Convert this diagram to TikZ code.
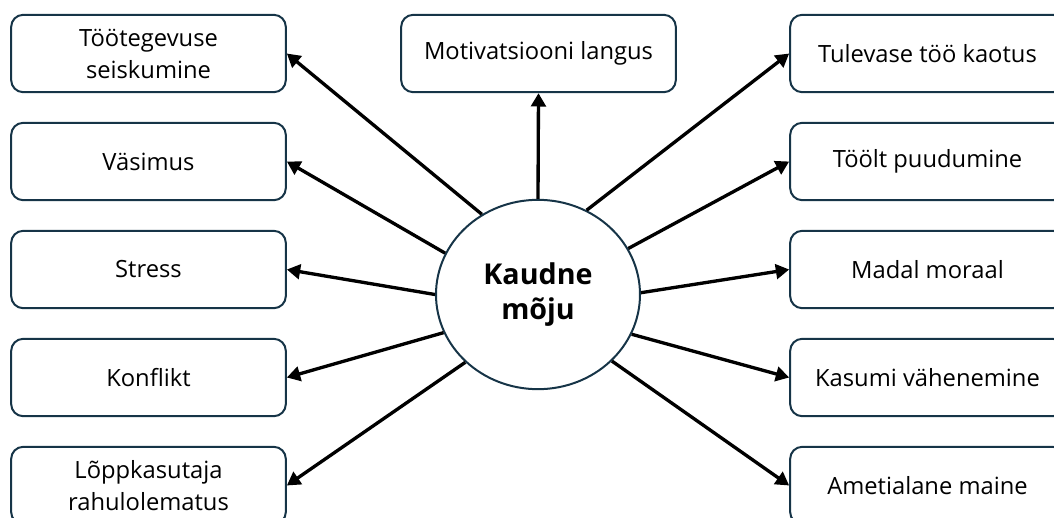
\documentclass[tikz,border=0pt]{standalone}
\usepackage{fontspec}
\setmainfont{Open Sans}
\usetikzlibrary{arrows.meta,shapes.geometric}
\definecolor{edgeblue}{HTML}{163447}

\begin{document}
\begin{tikzpicture}[x=0.75pt,y=-0.75pt,>={Triangle[length=10pt,width=11pt]},
    node distance=81pt,
    box node/.style={draw=edgeblue,line width=1.5pt,rounded corners=9pt,minimum width=206pt,minimum height=58pt,align=center,font=\fontsize{17.8}{24}\selectfont},
    hub node/.style={ellipse,draw=edgeblue,line width=1.5pt,minimum width=153pt,minimum height=142pt,inner sep=0pt,align=center,font=\fontsize{21.5}{26}\selectfont\bfseries},
    link/.style={->,line width=2.5pt}]
    \useasboundingbox (0,0) rectangle (1054,518);
    \clip (0,0) rectangle (1054,518);

    \node[hub node] (hub) at (538,294.5) {Kaudne\\mõju};
    \node[box node] (motiv) at (538.5,53.5) {Motivatsiooni langus};

    % left column
    \node[box node] (seisk) at (148.5,53.5) {Töötegevuse\\seiskumine};
    \node[box node] (vasim) [below of=seisk] {Väsimus};
    \node[box node] (stress) [below of=vasim] {Stress};
    \node[box node] (konfl) [below of=stress] {Konflikt};
    \node[box node] (rahul) [below of=konfl] {Lõppkasutaja\\rahulolematus};

    % right column
    \node[box node] (kaotus) at (927.5,53.5) {Tulevase töö kaotus};
    \node[box node] (puud) [below of=kaotus] {Töölt puudumine};
    \node[box node] (moraal) [below of=puud] {Madal moraal};
    \node[box node] (kasum) [below of=moraal] {Kasumi vähenemine};
    \node[box node] (maine) [below of=kasum] {Ametialane maine};

    \draw[link] (hub.90) -- (motiv.south);
    \draw[link] (hub.125) -- (seisk.east);
    \draw[link] (hub.156) -- (vasim.east);
    \draw[link] (hub.180) -- (stress.east);
    \draw[link] (hub.202) -- (konfl.east);
    \draw[link] (hub.223) -- (rahul.east);
    \draw[link] (hub.60) -- (kaotus.west);
    \draw[link] (hub.27) -- (puud.west);
    \draw[link] (hub.1) -- (moraal.west);
    \draw[link] (hub.-23) -- (kasum.west);
    \draw[link] (hub.-42) -- (maine.west);
\end{tikzpicture}
\end{document}
